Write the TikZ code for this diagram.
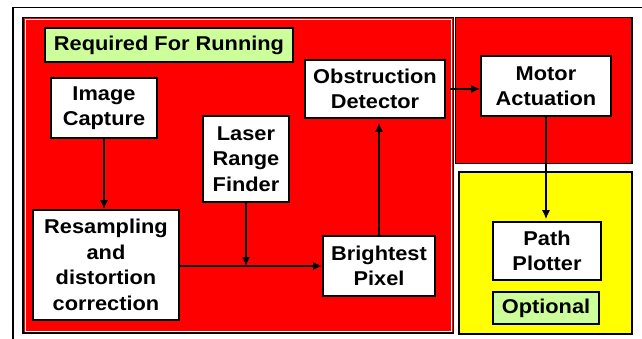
\documentclass[tikz,border=0pt]{standalone}
\usepackage{fontspec}
\setmainfont{Liberation Sans}[FakeStretch=1.09]
\usetikzlibrary{arrows.meta}
\definecolor{lgreen}{HTML}{CCFF99}
\definecolor{myred}{HTML}{FF0000}
\definecolor{myyellow}{HTML}{FFFF00}
\tikzset{
  box/.style={draw=black, line width=1.6pt, fill=white, align=center, inner sep=0pt,
    font=\bfseries\fontsize{20}{25.5}\selectfont},
  tag/.style={box, fill=lgreen},
  conn/.style={line width=1.4pt, -{Latex[length=9pt,width=8pt]}},
  region/.style={draw=black, line width=1.6pt}
}
\begin{document}
\begin{tikzpicture}[x=1pt,y=-1pt]
\useasboundingbox[fill=white] (0,0) rectangle (642,339);
% outer frame
\draw[line width=1.5pt] (13,339) -- (13,7.5) -- (642,7.5);
% main red region
\draw[region, fill=myred] (23,17.5) rectangle (453.5,333);
\draw[white, line width=1pt] (25,19.5) rectangle (451.5,331);
% motor region
\draw[region, fill=myred] (455.5,17.5) rectangle (632,163.5);
% optional region
\draw[region, fill=myyellow] (459,172) rectangle (632,334);

\node[tag, minimum width=248pt, minimum height=34pt] (req) at (169,45) {Required For Running};
\node[box, minimum width=106pt, minimum height=60pt] (img) at (104,108) {Image\\Capture};
\node[box, minimum width=86pt, minimum height=86pt] (laser) at (246,159) {Laser\\Range\\Finder};
\node[box, minimum width=140pt, minimum height=58pt] (obs) at (375,89) {Obstruction\\Detector};
\node[box, minimum width=130pt, minimum height=60pt] (motor) at (546,86) {Motor\\Actuation};
\node[box, minimum width=146pt, minimum height=110pt] (res) at (106,265) {Resampling\\and\\distortion\\correction};
\node[box, minimum width=112pt, minimum height=60pt] (bright) at (379,266) {Brightest\\Pixel};
\node[box, minimum width=108pt, minimum height=58pt] (path) at (547,251) {Path\\Plotter};
\node[tag, minimum width=106pt, minimum height=32pt] (opt) at (546,308) {Optional};

\draw[conn] (img.south) -- (img.south |- res.north);
\draw[conn] (res.east |- bright.west) -- (bright.west);
\draw[conn] (laser.south) -- (laser.south |- bright.west);
\draw[conn, shorten >=4pt] (bright.north) -- (bright.north |- obs.south);
\draw[conn, shorten <=4pt] (obs.east |- 0,89) -- (motor.west |- 0,89);
\draw[conn, shorten >=2pt] (motor.south) -- (motor.south |- path.north);
\end{tikzpicture}
\end{document}
